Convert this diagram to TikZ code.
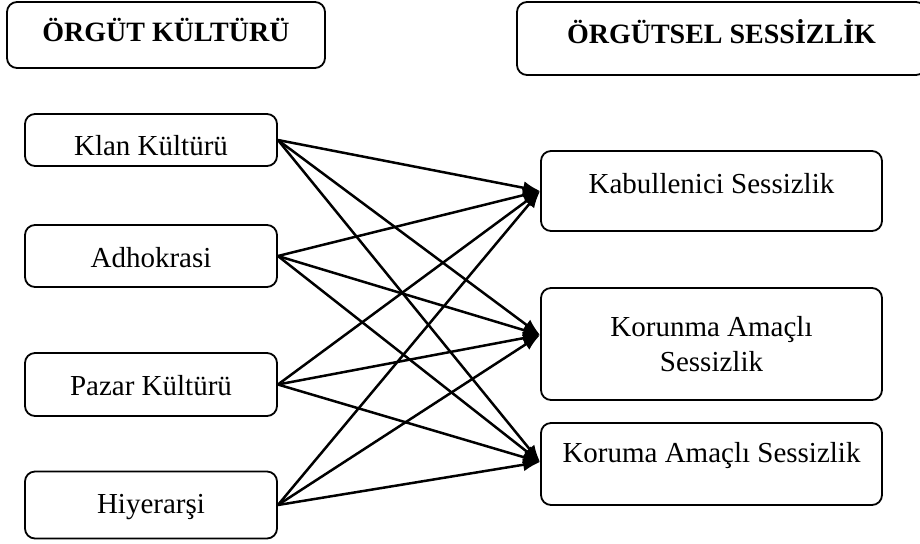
\documentclass[tikz,border=0pt]{standalone}
\usepackage{fontspec}
\setmainfont{Liberation Serif}
\usetikzlibrary{arrows.meta}

\begin{document}
\begin{tikzpicture}[x=0.5pt,y=-0.5pt,
  box/.style={draw,line width=0.9pt,rounded corners=5pt,inner sep=0pt,
    font=\fontsize{14.5}{17.5}\selectfont},
  head/.style={box,font=\fontsize{14}{16}\selectfont\bfseries},
  link/.style={-{Latex[length=8.5pt,width=6.5pt]},line width=1.25pt}]
\useasboundingbox (0,0) rectangle (920,543);
\node[head,minimum width=159pt,minimum height=33pt,text height=6pt,text depth=0pt] (kultur) at (166,35) {ÖRGÜT KÜLTÜRÜ};
\node[head,minimum width=204.5pt,minimum height=36.5pt,text height=4.5pt,text depth=0pt] (sessiz) at (721.5,38.5) {ÖRGÜTSEL SESSİZLİK};
\node[box,minimum width=126pt,minimum height=26pt,text height=15pt,text depth=0pt] (klan) at (151,140) {Klan Kültürü};
\node[box,minimum width=126pt,minimum height=31pt,text height=11pt,text depth=0pt] (adho) at (151,256) {Adhokrasi};
\node[box,minimum width=126pt,minimum height=31.5pt,text height=10.5pt,text depth=0pt] (pazar) at (151,384.5) {Pazar Kültürü};
\node[box,minimum width=126pt,minimum height=33.5pt,text height=8pt,text depth=0pt] (hiyer) at (151,505) {Hiyerarşi};
\node[box,minimum width=170.5pt,minimum height=40pt,text height=2pt,text depth=0pt] (kabul) at (711.5,191) {Kabullenici Sessizlik};
\node[box,minimum width=170.5pt,minimum height=56pt,align=center] (korun) at (711.5,344) {Korunma Amaçlı\\Sessizlik};
\node[box,minimum width=170.5pt,minimum height=41pt,text height=0pt,text depth=2pt] (korum) at (711.5,464) {Koruma Amaçlı Sessizlik};
\draw[link] (klan.east) -- (kabul.west);
\draw[link] (klan.east) -- ([yshift=4.5pt]korun.west);
\draw[link] (klan.east) -- ([yshift=1pt]korum.west);
\draw[link] (adho.east) -- (kabul.west);
\draw[link] (adho.east) -- ([yshift=4.5pt]korun.west);
\draw[link] (adho.east) -- ([yshift=1pt]korum.west);
\draw[link] (pazar.east) -- (kabul.west);
\draw[link] (pazar.east) -- ([yshift=4.5pt]korun.west);
\draw[link] (pazar.east) -- ([yshift=1pt]korum.west);
\draw[link] (hiyer.east) -- (kabul.west);
\draw[link] (hiyer.east) -- ([yshift=4.5pt]korun.west);
\draw[link] (hiyer.east) -- ([yshift=1pt]korum.west);
\end{tikzpicture}
\end{document}
